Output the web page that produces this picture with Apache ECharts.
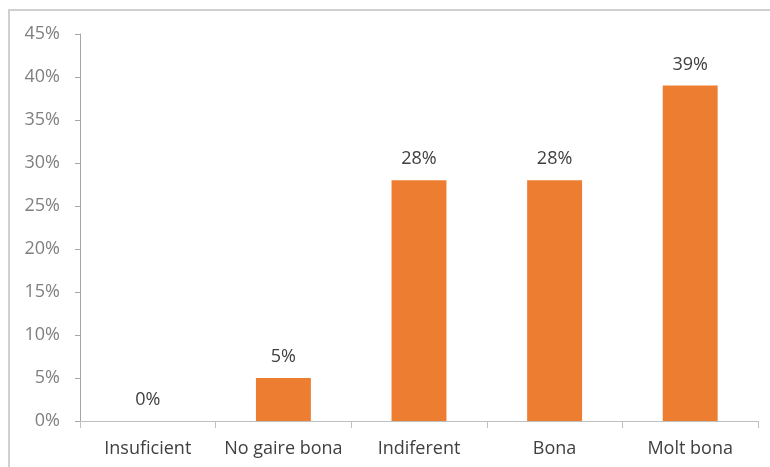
<!DOCTYPE html>
<html>
<head>
<meta charset="utf-8">
<script src="https://cdn.jsdelivr.net/npm/echarts@6/dist/echarts.min.js"></script>
<style>
  html, body { margin: 0; padding: 0; background: #fff; }
  #chart { width: 770px; height: 467px; }
</style>
</head>
<body>
<div id="chart"></div>
<script>
var categories = ['Insuficient', 'No gaire bona', 'Indiferent', 'Bona', 'Molt bona'];
var values = [0, 5, 28, 28, 39];

var myChart = echarts.init(document.getElementById('chart'));
var option = {
    animation: false,
    textStyle: { fontFamily: 'Open Sans' },
    graphic: [{
        type: 'rect',
        shape: { x: 9, y: 10, width: 800, height: 500 },
        style: { fill: 'none', stroke: '#d0d0d0', lineWidth: 2 },
        silent: true
    }],
    grid: { left: 80, right: 12, top: 34, bottom: 46 },
    xAxis: {
        type: 'category',
        data: categories,
        axisLine: { lineStyle: { color: '#bfbfbf', width: 1 } },
        axisTick: { show: true, alignWithLabel: false, length: 7, lineStyle: { color: '#bfbfbf' } },
        axisLabel: { color: '#404040', fontSize: 18, margin: 19, interval: 0 }
    },
    yAxis: {
        type: 'value',
        min: 0,
        max: 45,
        interval: 5,
        axisLine: { show: true, lineStyle: { color: '#a6a6a6' } },
        axisTick: { show: true, length: 5, lineStyle: { color: '#a6a6a6' } },
        splitLine: { show: false },
        axisLabel: { color: '#808080', fontSize: 18, margin: 20, formatter: '{value}%' }
    },
    series: [{
        type: 'bar',
        data: values,
        barWidth: '40.5%',
        itemStyle: { color: '#ED7D31' },
        label: {
            show: true,
            position: 'top',
            distance: 12,
            color: '#404040',
            fontSize: 18,
            formatter: '{c}%'
        }
    }]
};
myChart.setOption(option);
</script>
</body>
</html>
